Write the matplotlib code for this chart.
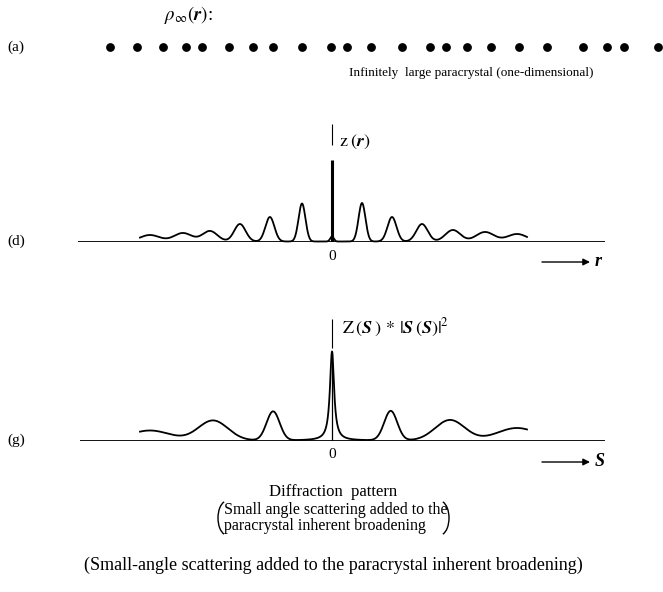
import matplotlib
matplotlib.use('Agg')
import numpy as np
import matplotlib.pyplot as plt
from matplotlib.patches import Arc

plt.rcParams['font.family'] = ['Liberation Serif', 'DejaVu Serif']
plt.rcParams['mathtext.fontset'] = 'stix'

# ---------------- data ----------------
# (a) lattice points of the 1-D paracrystal, in units of mean spacing
dot_r = [0.0, 1.08, 2.13, 3.05, 3.69, 4.78, 5.74, 6.55, 7.71, 8.88, 9.52,
         10.48, 11.73, 12.85, 13.49, 14.34, 15.30, 16.43, 17.55, 19.00,
         19.96, 20.64, 22.01]

# (d) z(r): peak positions (units of a), heights, widths
z_pos = [-6.07, -4.97, -4.07, -3.07, -2.07, -1.0, 0.0,
         1.0, 2.0, 3.0, 4.03, 5.1, 6.17]
z_height = [6.5, 8.5, 10.5, 17.5, 24.5, 38.0, 5.0,
            38.5, 24.5, 17.5, 11.5, 9.5, 7.5]
z_width = [0.33, 0.30, 0.25, 0.19, 0.15, 0.115, 0.06,
           0.115, 0.15, 0.19, 0.25, 0.30, 0.33]
z_delta = 82.0
z_range = (-6.4, 6.5)

# (g) Z(S)*|S(S)|^2: peak positions (units of 1/a), heights, widths
g_pos = [-3.06, -2.0, -0.99, 0.987, 1.983, 3.11]
g_height = [10.0, 20.0, 29.0, 29.5, 20.5, 12.5]
g_width = [0.335, 0.25, 0.11, 0.11, 0.25, 0.335]
g_center_height = 89.0
g_center_hwhm = 0.042
g_range = (-3.227, 3.277)

# ---------------- figure / layout helpers ----------------
W, H = 663, 592
fig = plt.figure(figsize=(W / 100, H / 100), dpi=100)


def fx(x):
    return x / W


def fy(y):
    return 1 - y / H


# overlay for decorations (brackets)
ov = fig.add_axes([0, 0, 1, 1])
ov.set_xlim(0, W)
ov.set_ylim(H, 0)
ov.axis('off')

# ---------------- (a) ----------------
ax_a = fig.add_axes([fx(110), fy(52), (658 - 110) / W, 10 / H])
ax_a.set_xlim(0, 22.01)
ax_a.set_ylim(-1, 1)
ax_a.axis('off')
ax_a.scatter(dot_r, np.zeros(len(dot_r)), s=28, color='black', clip_on=False)

fig.text(fx(164), fy(15), r'$\rho_{\infty}(\mathbfit{r})$:', fontsize=13.5,
         ha='left', va='center')
fig.text(fx(7), fy(47), '(a)', fontsize=11, ha='left', va='center')
fig.text(fx(471), fy(73), 'Infinitely  large paracrystal (one-dimensional)',
         fontsize=9.5, ha='center', va='center')

# ---------------- (d) ----------------
d_unit, d_org, d_base = 30.0, 332.0, 241.5
ax_d = fig.add_axes([fx(78), fy(d_base), (605 - 78) / W, 130 / H])
ax_d.set_xlim((78 - d_org) / d_unit, (605 - d_org) / d_unit)
ax_d.set_ylim(0, 130)
ax_d.axis('off')
ax_d.axhline(0, color='black', lw=1.3)

xd = np.linspace(z_range[0], z_range[1], 3000)
yd = np.zeros_like(xd)
for p, h, w in zip(z_pos, z_height, z_width):
    yd += h * np.exp(-0.5 * ((xd - p) / w) ** 2)
ax_d.plot(xd, yd, color='black', lw=1.3, clip_on=False)
ax_d.vlines(0, 0, z_delta, color='black', lw=2.2)
ax_d.vlines(0, 97, 118, color='black', lw=0.8, clip_on=False)
ax_d.text(0.22, 100, r'$\mathrm{z}\;(\mathbfit{r})$', fontsize=13,
          ha='left', va='center')
ax_d.text(0, -15, '0', fontsize=11, ha='center', va='center')

fig.text(fx(7), fy(241), '(d)', fontsize=11, ha='left', va='center')
ax_d.annotate('', xy=(fx(590), fy(262)), xytext=(fx(542), fy(262)),
              xycoords='figure fraction', textcoords='figure fraction',
              arrowprops=dict(arrowstyle='-|>', color='black', lw=1.0,
                              mutation_scale=10, shrinkA=0, shrinkB=0))
fig.text(fx(595), fy(262), 'r', fontsize=13, fontstyle='italic',
         fontweight='bold', ha='left', va='center')

# ---------------- (g) ----------------
g_unit, g_org, g_base = 59.5, 332.0, 440.5
ax_g = fig.add_axes([fx(80), fy(g_base), (605 - 80) / W, 130 / H])
ax_g.set_xlim((80 - g_org) / g_unit, (605 - g_org) / g_unit)
ax_g.set_ylim(0, 130)
ax_g.axis('off')
ax_g.axhline(0, color='black', lw=1.3)

xg = np.linspace(g_range[0], g_range[1], 4000)
yg = g_center_height / (1 + (xg / g_center_hwhm) ** 2)
for p, h, w in zip(g_pos, g_height, g_width):
    yg += h * np.exp(-0.5 * ((xg - p) / w) ** 2)
ax_g.plot(xg, yg, color='black', lw=1.3, clip_on=False)
ax_g.vlines(0, 0, g_center_height, color='black', lw=0.9)
ax_g.vlines(0, 93, 122, color='black', lw=0.8, clip_on=False)
ax_g.text(0.16, 113,
          r'$\mathrm{Z}\,(\mathbfit{S}\;)\,*\,|\mathbfit{S}\,(\mathbfit{S})|^{2}$',
          fontsize=13, ha='left', va='center')
ax_g.text(0, -14, '0', fontsize=11, ha='center', va='center')

fig.text(fx(7), fy(440), '(g)', fontsize=11, ha='left', va='center')
ax_g.annotate('', xy=(fx(590), fy(462)), xytext=(fx(542), fy(462)),
              xycoords='figure fraction', textcoords='figure fraction',
              arrowprops=dict(arrowstyle='-|>', color='black', lw=1.0,
                              mutation_scale=10, shrinkA=0, shrinkB=0))
fig.text(fx(595), fy(462), 'S', fontsize=13, fontstyle='italic',
         fontweight='bold', ha='left', va='center')

# ---------------- captions ----------------
fig.text(fx(333), fy(492), 'Diffraction  pattern', fontsize=12,
         ha='center', va='center')
fig.text(fx(224), fy(510), 'Small angle scattering added to the',
         fontsize=11.5, ha='left', va='center')
fig.text(fx(224), fy(526), 'paracrystal inherent broadening',
         fontsize=11.5, ha='left', va='center')
ov.add_patch(Arc((227, 518), 18, 34, theta1=100, theta2=260,
                 color='black', lw=1.0))
ov.add_patch(Arc((440, 518), 18, 34, theta1=-80, theta2=80,
                 color='black', lw=1.0))
fig.text(fx(333), fy(565),
         '(Small-angle scattering added to the paracrystal inherent broadening)',
         fontsize=13, ha='center', va='center')

fig.savefig('out.png', dpi=100)
